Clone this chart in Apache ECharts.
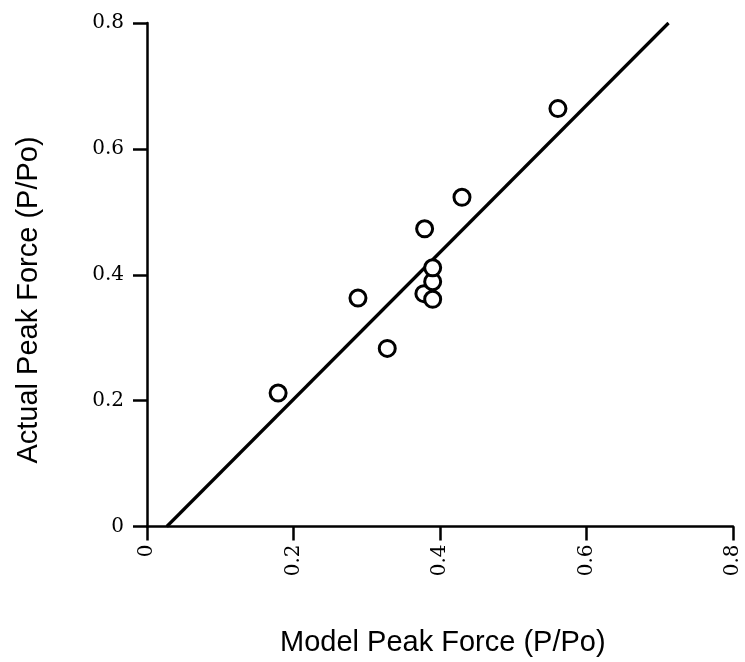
<!DOCTYPE html>
<html>
<head>
<meta charset="utf-8">
<script src="https://cdn.jsdelivr.net/npm/echarts@6/dist/echarts.min.js"></script>
<style>html,body{margin:0;padding:0;background:#fff}#c{width:745px;height:662px}</style>
</head>
<body>
<div id="c"></div>
<script>
// Data
var modelPeak  = [0.179, 0.288, 0.328, 0.378, 0.379, 0.390, 0.390, 0.390, 0.430, 0.561];
var actualPeak = [0.212, 0.363, 0.283, 0.370, 0.473, 0.361, 0.389, 0.411, 0.523, 0.664];
var fitX = [0.027, 0.712];
var fitY = [0.0, 0.80];
var xTitle = 'Model Peak Force (P/Po)';
var yTitle = 'Actual Peak Force (P/Po)';

var pts = modelPeak.map(function (x, i) { return [x, actualPeak[i]]; });
var fit = fitX.map(function (x, i) { return [x, fitY[i]]; });

var chart = echarts.init(document.getElementById('c'), null, {renderer: 'canvas'});
var axisCommon = {
  type: 'value', min: 0, max: 0.8, interval: 0.2,
  splitLine: {show: false},
  axisLine: {show: true, onZero: false, lineStyle: {color: '#000', width: 2.5}},
  axisTick: {show: true, inside: false, length: 14, lineStyle: {color: '#000', width: 2.5}},
  axisLabel: {color: '#000', fontFamily: 'DejaVu Serif', fontSize: 20,
    formatter: function (v) { return v === 0 ? '0' : v.toFixed(1); }}
};
chart.setOption({
  animation: false,
  backgroundColor: '#fff',
  grid: {left: 147, right: 12, top: 23, bottom: 135.5, containLabel: false},
  xAxis: Object.assign({}, axisCommon, {
    axisLabel: Object.assign({}, axisCommon.axisLabel, {rotate: 90, margin: 18})
  }),
  yAxis: Object.assign({}, axisCommon, {
    axisLabel: Object.assign({}, axisCommon.axisLabel, {margin: 23})
  }),
  graphic: [
    {type: 'text', left: 280, top: 628,
      style: {text: xTitle, fill: '#000', font: '29px "Liberation Sans"'}},
    {type: 'text', x: 14, y: 300, rotation: Math.PI / 2,
      style: {text: yTitle, fill: '#000', font: '29px "Liberation Sans"',
        textAlign: 'center', textVerticalAlign: 'top'}}
  ],
  series: [
    {type: 'line', data: fit, symbol: 'none', silent: true,
      lineStyle: {color: '#000', width: 3.2}, z: 2},
    {type: 'scatter', data: pts, symbol: 'circle', symbolSize: 16,
      itemStyle: {color: '#fff', borderColor: '#000', borderWidth: 3, opacity: 1}, z: 3}
  ]
});
</script>
</body>
</html>
